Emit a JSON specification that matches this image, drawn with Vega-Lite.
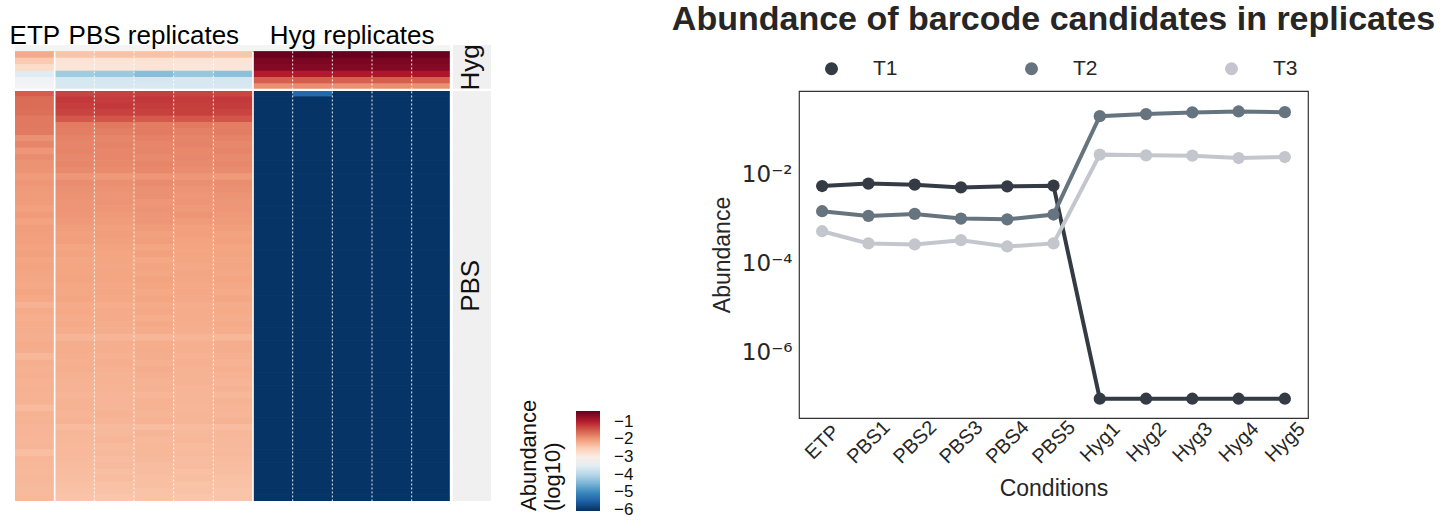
{
  "$schema": "https://vega.github.io/schema/vega-lite/v6.json",
  "background": "white",
  "padding": {"left": 9, "top": 2, "right": 5, "bottom": 0},
  "bounds": "flush",
  "spacing": 308,
  "config": {
    "font": "Liberation Sans",
    "text": {"font": "Liberation Sans"},
    "axis": {"grid": false},
    "legend": {"padding": 0}
  },
  "resolve": {
    "scale": {"x": "independent", "y": "independent", "color": "independent"},
    "legend": {"color": "independent"}
  },
  "datasets": {
    "cells": [
      {"r":"H01","ETP":-2.14,"PBS1":-2.40,"PBS2":-2.38,"PBS3":-2.37,"PBS4":-2.40,"PBS5":-2.41,"Hyg1":-0.42,"Hyg2":-0.40,"Hyg3":-0.41,"Hyg4":-0.40,"Hyg5":-0.42},
      {"r":"H02","ETP":-2.47,"PBS1":-2.80,"PBS2":-2.82,"PBS3":-2.79,"PBS4":-2.81,"PBS5":-2.83,"Hyg1":-0.56,"Hyg2":-0.55,"Hyg3":-0.54,"Hyg4":-0.55,"Hyg5":-0.56},
      {"r":"H03","ETP":-2.67,"PBS1":-2.83,"PBS2":-2.84,"PBS3":-2.82,"PBS4":-2.85,"PBS5":-2.84,"Hyg1":-0.62,"Hyg2":-0.61,"Hyg3":-0.60,"Hyg4":-0.60,"Hyg5":-0.62},
      {"r":"H04","ETP":-3.54,"PBS1":-4.20,"PBS2":-4.25,"PBS3":-4.40,"PBS4":-4.27,"PBS5":-4.37,"Hyg1":-0.98,"Hyg2":-0.97,"Hyg3":-0.94,"Hyg4":-0.93,"Hyg5":-0.92},
      {"r":"H05","ETP":-3.31,"PBS1":-3.68,"PBS2":-3.70,"PBS3":-3.69,"PBS4":-3.67,"PBS5":-3.70,"Hyg1":-1.52,"Hyg2":-1.50,"Hyg3":-1.53,"Hyg4":-1.51,"Hyg5":-1.52},
      {"r":"H06","ETP":-3.28,"PBS1":-3.66,"PBS2":-3.67,"PBS3":-3.65,"PBS4":-3.68,"PBS5":-3.66,"Hyg1":-1.90,"Hyg2":-1.88,"Hyg3":-1.91,"Hyg4":-1.89,"Hyg5":-1.92},
      {"r":"P01","ETP":-1.50,"PBS1":-1.30,"PBS2":-1.28,"PBS3":-1.26,"PBS4":-1.30,"PBS5":-1.32,"Hyg1":-6,"Hyg2":-5.4,"Hyg3":-6,"Hyg4":-6,"Hyg5":-6},
      {"r":"P02","ETP":-1.62,"PBS1":-1.22,"PBS2":-1.24,"PBS3":-1.20,"PBS4":-1.23,"PBS5":-1.22,"Hyg1":-6,"Hyg2":-6,"Hyg3":-6,"Hyg4":-6,"Hyg5":-6},
      {"r":"P03","ETP":-1.62,"PBS1":-1.25,"PBS2":-1.22,"PBS3":-1.24,"PBS4":-1.26,"PBS5":-1.24,"Hyg1":-6,"Hyg2":-6,"Hyg3":-6,"Hyg4":-6,"Hyg5":-6},
      {"r":"P04","ETP":-1.64,"PBS1":-1.30,"PBS2":-1.28,"PBS3":-1.29,"PBS4":-1.27,"PBS5":-1.30,"Hyg1":-6,"Hyg2":-6,"Hyg3":-6,"Hyg4":-6,"Hyg5":-6},
      {"r":"P05","ETP":-1.72,"PBS1":-1.46,"PBS2":-1.44,"PBS3":-1.47,"PBS4":-1.45,"PBS5":-1.44,"Hyg1":-6,"Hyg2":-6,"Hyg3":-6,"Hyg4":-6,"Hyg5":-6},
      {"r":"P06","ETP":-1.72,"PBS1":-1.74,"PBS2":-1.72,"PBS3":-1.75,"PBS4":-1.73,"PBS5":-1.76,"Hyg1":-6,"Hyg2":-6,"Hyg3":-6,"Hyg4":-6,"Hyg5":-6},
      {"r":"P07","ETP":-1.73,"PBS1":-1.76,"PBS2":-1.77,"PBS3":-1.74,"PBS4":-1.78,"PBS5":-1.75,"Hyg1":-6,"Hyg2":-6,"Hyg3":-6,"Hyg4":-6,"Hyg5":-6},
      {"r":"P08","ETP":-1.92,"PBS1":-1.80,"PBS2":-1.82,"PBS3":-1.79,"PBS4":-1.81,"PBS5":-1.80,"Hyg1":-6,"Hyg2":-6,"Hyg3":-6,"Hyg4":-6,"Hyg5":-6},
      {"r":"P09","ETP":-1.82,"PBS1":-1.82,"PBS2":-1.80,"PBS3":-1.83,"PBS4":-1.80,"PBS5":-1.84,"Hyg1":-6,"Hyg2":-6,"Hyg3":-6,"Hyg4":-6,"Hyg5":-6},
      {"r":"P10","ETP":-1.96,"PBS1":-1.81,"PBS2":-1.83,"PBS3":-1.82,"PBS4":-1.85,"PBS5":-1.82,"Hyg1":-6,"Hyg2":-6,"Hyg3":-6,"Hyg4":-6,"Hyg5":-6},
      {"r":"P11","ETP":-1.88,"PBS1":-1.84,"PBS2":-1.83,"PBS3":-1.86,"PBS4":-1.84,"PBS5":-1.86,"Hyg1":-6,"Hyg2":-6,"Hyg3":-6,"Hyg4":-6,"Hyg5":-6},
      {"r":"P12","ETP":-1.93,"PBS1":-1.83,"PBS2":-1.85,"PBS3":-1.82,"PBS4":-1.86,"PBS5":-1.84,"Hyg1":-6,"Hyg2":-6,"Hyg3":-6,"Hyg4":-6,"Hyg5":-6},
      {"r":"P13","ETP":-1.94,"PBS1":-1.86,"PBS2":-1.87,"PBS3":-1.85,"PBS4":-1.88,"PBS5":-1.87,"Hyg1":-6,"Hyg2":-6,"Hyg3":-6,"Hyg4":-6,"Hyg5":-6},
      {"r":"P14","ETP":-2.00,"PBS1":-1.97,"PBS2":-1.98,"PBS3":-1.96,"PBS4":-1.97,"PBS5":-1.99,"Hyg1":-6,"Hyg2":-6,"Hyg3":-6,"Hyg4":-6,"Hyg5":-6},
      {"r":"P15","ETP":-1.96,"PBS1":-1.88,"PBS2":-1.90,"PBS3":-1.87,"PBS4":-1.90,"PBS5":-1.89,"Hyg1":-6,"Hyg2":-6,"Hyg3":-6,"Hyg4":-6,"Hyg5":-6},
      {"r":"P16","ETP":-1.99,"PBS1":-1.92,"PBS2":-1.93,"PBS3":-1.91,"PBS4":-1.94,"PBS5":-1.92,"Hyg1":-6,"Hyg2":-6,"Hyg3":-6,"Hyg4":-6,"Hyg5":-6},
      {"r":"P17","ETP":-2.00,"PBS1":-1.93,"PBS2":-1.95,"PBS3":-1.92,"PBS4":-1.96,"PBS5":-1.94,"Hyg1":-6,"Hyg2":-6,"Hyg3":-6,"Hyg4":-6,"Hyg5":-6},
      {"r":"P18","ETP":-2.00,"PBS1":-1.95,"PBS2":-1.94,"PBS3":-1.96,"PBS4":-1.95,"PBS5":-1.97,"Hyg1":-6,"Hyg2":-6,"Hyg3":-6,"Hyg4":-6,"Hyg5":-6},
      {"r":"P19","ETP":-2.04,"PBS1":-1.95,"PBS2":-1.97,"PBS3":-1.94,"PBS4":-1.98,"PBS5":-1.96,"Hyg1":-6,"Hyg2":-6,"Hyg3":-6,"Hyg4":-6,"Hyg5":-6},
      {"r":"P20","ETP":-2.00,"PBS1":-1.96,"PBS2":-1.98,"PBS3":-1.97,"PBS4":-1.95,"PBS5":-1.98,"Hyg1":-6,"Hyg2":-6,"Hyg3":-6,"Hyg4":-6,"Hyg5":-6},
      {"r":"P21","ETP":-2.06,"PBS1":-1.98,"PBS2":-2.00,"PBS3":-1.97,"PBS4":-2.01,"PBS5":-1.99,"Hyg1":-6,"Hyg2":-6,"Hyg3":-6,"Hyg4":-6,"Hyg5":-6},
      {"r":"P22","ETP":-2.02,"PBS1":-2.02,"PBS2":-2.03,"PBS3":-2.01,"PBS4":-2.04,"PBS5":-2.02,"Hyg1":-6,"Hyg2":-6,"Hyg3":-6,"Hyg4":-6,"Hyg5":-6},
      {"r":"P23","ETP":-2.03,"PBS1":-2.04,"PBS2":-2.02,"PBS3":-2.05,"PBS4":-2.03,"PBS5":-2.06,"Hyg1":-6,"Hyg2":-6,"Hyg3":-6,"Hyg4":-6,"Hyg5":-6},
      {"r":"P24","ETP":-2.04,"PBS1":-2.03,"PBS2":-2.05,"PBS3":-2.02,"PBS4":-2.06,"PBS5":-2.04,"Hyg1":-6,"Hyg2":-6,"Hyg3":-6,"Hyg4":-6,"Hyg5":-6},
      {"r":"P25","ETP":-2.06,"PBS1":-2.08,"PBS2":-2.06,"PBS3":-2.09,"PBS4":-2.07,"PBS5":-2.08,"Hyg1":-6,"Hyg2":-6,"Hyg3":-6,"Hyg4":-6,"Hyg5":-6},
      {"r":"P26","ETP":-2.05,"PBS1":-2.06,"PBS2":-2.08,"PBS3":-2.05,"PBS4":-2.09,"PBS5":-2.07,"Hyg1":-6,"Hyg2":-6,"Hyg3":-6,"Hyg4":-6,"Hyg5":-6},
      {"r":"P27","ETP":-2.08,"PBS1":-2.10,"PBS2":-2.09,"PBS3":-2.11,"PBS4":-2.08,"PBS5":-2.10,"Hyg1":-6,"Hyg2":-6,"Hyg3":-6,"Hyg4":-6,"Hyg5":-6},
      {"r":"P28","ETP":-2.06,"PBS1":-2.08,"PBS2":-2.10,"PBS3":-2.07,"PBS4":-2.11,"PBS5":-2.09,"Hyg1":-6,"Hyg2":-6,"Hyg3":-6,"Hyg4":-6,"Hyg5":-6},
      {"r":"P29","ETP":-2.08,"PBS1":-2.09,"PBS2":-2.08,"PBS3":-2.10,"PBS4":-2.09,"PBS5":-2.11,"Hyg1":-6,"Hyg2":-6,"Hyg3":-6,"Hyg4":-6,"Hyg5":-6},
      {"r":"P30","ETP":-2.10,"PBS1":-2.07,"PBS2":-2.09,"PBS3":-2.06,"PBS4":-2.10,"PBS5":-2.08,"Hyg1":-6,"Hyg2":-6,"Hyg3":-6,"Hyg4":-6,"Hyg5":-6},
      {"r":"P31","ETP":-2.12,"PBS1":-2.10,"PBS2":-2.11,"PBS3":-2.09,"PBS4":-2.12,"PBS5":-2.11,"Hyg1":-6,"Hyg2":-6,"Hyg3":-6,"Hyg4":-6,"Hyg5":-6},
      {"r":"P32","ETP":-2.08,"PBS1":-2.11,"PBS2":-2.10,"PBS3":-2.12,"PBS4":-2.11,"PBS5":-2.13,"Hyg1":-6,"Hyg2":-6,"Hyg3":-6,"Hyg4":-6,"Hyg5":-6},
      {"r":"P33","ETP":-2.12,"PBS1":-2.09,"PBS2":-2.11,"PBS3":-2.08,"PBS4":-2.12,"PBS5":-2.10,"Hyg1":-6,"Hyg2":-6,"Hyg3":-6,"Hyg4":-6,"Hyg5":-6},
      {"r":"P34","ETP":-2.23,"PBS1":-2.14,"PBS2":-2.16,"PBS3":-2.13,"PBS4":-2.17,"PBS5":-2.15,"Hyg1":-6,"Hyg2":-6,"Hyg3":-6,"Hyg4":-6,"Hyg5":-6},
      {"r":"P35","ETP":-2.13,"PBS1":-2.12,"PBS2":-2.14,"PBS3":-2.11,"PBS4":-2.15,"PBS5":-2.13,"Hyg1":-6,"Hyg2":-6,"Hyg3":-6,"Hyg4":-6,"Hyg5":-6},
      {"r":"P36","ETP":-2.18,"PBS1":-2.15,"PBS2":-2.14,"PBS3":-2.16,"PBS4":-2.15,"PBS5":-2.17,"Hyg1":-6,"Hyg2":-6,"Hyg3":-6,"Hyg4":-6,"Hyg5":-6},
      {"r":"P37","ETP":-2.16,"PBS1":-2.13,"PBS2":-2.15,"PBS3":-2.12,"PBS4":-2.16,"PBS5":-2.14,"Hyg1":-6,"Hyg2":-6,"Hyg3":-6,"Hyg4":-6,"Hyg5":-6},
      {"r":"P38","ETP":-2.17,"PBS1":-2.16,"PBS2":-2.17,"PBS3":-2.15,"PBS4":-2.18,"PBS5":-2.16,"Hyg1":-6,"Hyg2":-6,"Hyg3":-6,"Hyg4":-6,"Hyg5":-6},
      {"r":"P39","ETP":-2.18,"PBS1":-2.25,"PBS2":-2.24,"PBS3":-2.26,"PBS4":-2.25,"PBS5":-2.27,"Hyg1":-6,"Hyg2":-6,"Hyg3":-6,"Hyg4":-6,"Hyg5":-6},
      {"r":"P40","ETP":-2.15,"PBS1":-2.17,"PBS2":-2.18,"PBS3":-2.16,"PBS4":-2.19,"PBS5":-2.17,"Hyg1":-6,"Hyg2":-6,"Hyg3":-6,"Hyg4":-6,"Hyg5":-6},
      {"r":"P41","ETP":-2.17,"PBS1":-2.16,"PBS2":-2.18,"PBS3":-2.15,"PBS4":-2.19,"PBS5":-2.17,"Hyg1":-6,"Hyg2":-6,"Hyg3":-6,"Hyg4":-6,"Hyg5":-6},
      {"r":"P42","ETP":-2.27,"PBS1":-2.18,"PBS2":-2.20,"PBS3":-2.17,"PBS4":-2.21,"PBS5":-2.19,"Hyg1":-6,"Hyg2":-6,"Hyg3":-6,"Hyg4":-6,"Hyg5":-6},
      {"r":"P43","ETP":-2.18,"PBS1":-2.19,"PBS2":-2.18,"PBS3":-2.20,"PBS4":-2.19,"PBS5":-2.21,"Hyg1":-6,"Hyg2":-6,"Hyg3":-6,"Hyg4":-6,"Hyg5":-6},
      {"r":"P44","ETP":-2.20,"PBS1":-2.18,"PBS2":-2.20,"PBS3":-2.17,"PBS4":-2.21,"PBS5":-2.19,"Hyg1":-6,"Hyg2":-6,"Hyg3":-6,"Hyg4":-6,"Hyg5":-6},
      {"r":"P45","ETP":-2.19,"PBS1":-2.20,"PBS2":-2.22,"PBS3":-2.19,"PBS4":-2.23,"PBS5":-2.21,"Hyg1":-6,"Hyg2":-6,"Hyg3":-6,"Hyg4":-6,"Hyg5":-6},
      {"r":"P46","ETP":-2.21,"PBS1":-2.22,"PBS2":-2.21,"PBS3":-2.23,"PBS4":-2.22,"PBS5":-2.24,"Hyg1":-6,"Hyg2":-6,"Hyg3":-6,"Hyg4":-6,"Hyg5":-6},
      {"r":"P47","ETP":-2.20,"PBS1":-2.21,"PBS2":-2.23,"PBS3":-2.20,"PBS4":-2.24,"PBS5":-2.22,"Hyg1":-6,"Hyg2":-6,"Hyg3":-6,"Hyg4":-6,"Hyg5":-6},
      {"r":"P48","ETP":-2.21,"PBS1":-2.25,"PBS2":-2.24,"PBS3":-2.26,"PBS4":-2.25,"PBS5":-2.27,"Hyg1":-6,"Hyg2":-6,"Hyg3":-6,"Hyg4":-6,"Hyg5":-6},
      {"r":"P49","ETP":-2.22,"PBS1":-2.22,"PBS2":-2.24,"PBS3":-2.21,"PBS4":-2.25,"PBS5":-2.23,"Hyg1":-6,"Hyg2":-6,"Hyg3":-6,"Hyg4":-6,"Hyg5":-6},
      {"r":"P50","ETP":-2.31,"PBS1":-2.23,"PBS2":-2.25,"PBS3":-2.22,"PBS4":-2.26,"PBS5":-2.24,"Hyg1":-6,"Hyg2":-6,"Hyg3":-6,"Hyg4":-6,"Hyg5":-6},
      {"r":"P51","ETP":-2.22,"PBS1":-2.24,"PBS2":-2.23,"PBS3":-2.25,"PBS4":-2.24,"PBS5":-2.26,"Hyg1":-6,"Hyg2":-6,"Hyg3":-6,"Hyg4":-6,"Hyg5":-6},
      {"r":"P52","ETP":-2.23,"PBS1":-2.22,"PBS2":-2.24,"PBS3":-2.21,"PBS4":-2.25,"PBS5":-2.23,"Hyg1":-6,"Hyg2":-6,"Hyg3":-6,"Hyg4":-6,"Hyg5":-6},
      {"r":"P53","ETP":-2.24,"PBS1":-2.31,"PBS2":-2.30,"PBS3":-2.32,"PBS4":-2.31,"PBS5":-2.33,"Hyg1":-6,"Hyg2":-6,"Hyg3":-6,"Hyg4":-6,"Hyg5":-6},
      {"r":"P54","ETP":-2.24,"PBS1":-2.26,"PBS2":-2.28,"PBS3":-2.25,"PBS4":-2.29,"PBS5":-2.27,"Hyg1":-6,"Hyg2":-6,"Hyg3":-6,"Hyg4":-6,"Hyg5":-6},
      {"r":"P55","ETP":-2.26,"PBS1":-2.27,"PBS2":-2.26,"PBS3":-2.28,"PBS4":-2.27,"PBS5":-2.29,"Hyg1":-6,"Hyg2":-6,"Hyg3":-6,"Hyg4":-6,"Hyg5":-6},
      {"r":"P56","ETP":-2.25,"PBS1":-2.28,"PBS2":-2.30,"PBS3":-2.27,"PBS4":-2.31,"PBS5":-2.29,"Hyg1":-6,"Hyg2":-6,"Hyg3":-6,"Hyg4":-6,"Hyg5":-6},
      {"r":"P57","ETP":-2.35,"PBS1":-2.28,"PBS2":-2.29,"PBS3":-2.27,"PBS4":-2.30,"PBS5":-2.29,"Hyg1":-6,"Hyg2":-6,"Hyg3":-6,"Hyg4":-6,"Hyg5":-6},
      {"r":"P58","ETP":-2.26,"PBS1":-2.30,"PBS2":-2.32,"PBS3":-2.29,"PBS4":-2.33,"PBS5":-2.31,"Hyg1":-6,"Hyg2":-6,"Hyg3":-6,"Hyg4":-6,"Hyg5":-6},
      {"r":"P59","ETP":-2.27,"PBS1":-2.31,"PBS2":-2.30,"PBS3":-2.32,"PBS4":-2.31,"PBS5":-2.33,"Hyg1":-6,"Hyg2":-6,"Hyg3":-6,"Hyg4":-6,"Hyg5":-6},
      {"r":"P60","ETP":-2.28,"PBS1":-2.33,"PBS2":-2.35,"PBS3":-2.32,"PBS4":-2.36,"PBS5":-2.34,"Hyg1":-6,"Hyg2":-6,"Hyg3":-6,"Hyg4":-6,"Hyg5":-6},
      {"r":"P61","ETP":-2.27,"PBS1":-2.34,"PBS2":-2.33,"PBS3":-2.35,"PBS4":-2.34,"PBS5":-2.36,"Hyg1":-6,"Hyg2":-6,"Hyg3":-6,"Hyg4":-6,"Hyg5":-6},
      {"r":"P62","ETP":-2.29,"PBS1":-2.36,"PBS2":-2.38,"PBS3":-2.35,"PBS4":-2.39,"PBS5":-2.37,"Hyg1":-6,"Hyg2":-6,"Hyg3":-6,"Hyg4":-6,"Hyg5":-6},
      {"r":"P63","ETP":-2.30,"PBS1":-2.38,"PBS2":-2.37,"PBS3":-2.39,"PBS4":-2.38,"PBS5":-2.40,"Hyg1":-6,"Hyg2":-6,"Hyg3":-6,"Hyg4":-6,"Hyg5":-6},
      {"r":"P64","ETP":-2.28,"PBS1":-2.40,"PBS2":-2.42,"PBS3":-2.39,"PBS4":-2.41,"PBS5":-2.40,"Hyg1":-6,"Hyg2":-6,"Hyg3":-6,"Hyg4":-6,"Hyg5":-6}
    ]
  },
  "hconcat": [
    {
      "width": 476,
      "height": 456,
      "view": {"stroke": null},
      "layer": [
        {
          "data": {"values": [{}]},
          "mark": {"type": "rect", "color": "#f4f4f4"},
          "encoding": {"y": {"datum": "A", "type": "ordinal", "axis": null}}
        },
        {
          "data": {"values": [{}]},
          "mark": {"type": "rect", "color": "#f0f0f0"},
          "encoding": {
            "x": {"datum": "S", "type": "nominal",
              "axis": {"orient": "top", "title": null, "ticks": false, "domain": false, "labelAngle": 0, "labelExpr": "datum.value == 'ETP' ? 'ETP' : datum.value == 'PBS3' ? 'PBS replicates' : datum.value == 'Hyg3' ? 'Hyg replicates' : ''", "labelFontSize": 26, "labelColor": "#000000", "labelPadding": 2, "labelBaseline": "alphabetic", "labelOverlap": false, "labelFlush": false, "labelBound": false, "labelLimit": 400}}
          }
        },
        {
          "data": {"name": "cells"},
          "transform": [
            {"fold": ["ETP","PBS1","PBS2","PBS3","PBS4","PBS5","Hyg1","Hyg2","Hyg3","Hyg4","Hyg5"], "as": ["c", "v"]}
          ],
          "layer": [
            {"mark": {"type": "rect"}},
            {"mark": {"type": "rect"}},
            {"mark": {"type": "rect"}}
          ],
          "encoding": {
            "x": {
              "field": "c", "type": "nominal",
              "scale": {"domain": ["ETP","PBS1","PBS2","PBS3","PBS4","PBS5","Hyg1","Hyg2","Hyg3","Hyg4","Hyg5","S"], "paddingInner": 0, "paddingOuter": 0},
              "axis": {"orient": "top", "title": null, "ticks": false, "domain": false, "labelAngle": 0, "labelExpr": "datum.value == 'ETP' ? 'ETP' : datum.value == 'PBS3' ? 'PBS replicates' : datum.value == 'Hyg3' ? 'Hyg replicates' : ''", "labelFontSize": 26, "labelColor": "#000000", "labelPadding": 2, "labelBaseline": "alphabetic", "labelOverlap": false, "labelFlush": false, "labelBound": false, "labelLimit": 400}
            },
            "y": {
              "field": "r", "type": "ordinal",
              "scale": {"domain": ["A","H01","H02","H03","H04","H05","H06","P01","P02","P03","P04","P05","P06","P07","P08","P09","P10","P11","P12","P13","P14","P15","P16","P17","P18","P19","P20","P21","P22","P23","P24","P25","P26","P27","P28","P29","P30","P31","P32","P33","P34","P35","P36","P37","P38","P39","P40","P41","P42","P43","P44","P45","P46","P47","P48","P49","P50","P51","P52","P53","P54","P55","P56","P57","P58","P59","P60","P61","P62","P63","P64"], "paddingInner": 0, "paddingOuter": 0},
              "axis": null
            },
            "color": {
              "field": "v", "type": "quantitative",
              "scale": {
                "type": "linear",
                "domain": [-6.05, -5.44, -4.88, -4.32, -3.76, -3.2, -2.64, -2.08, -1.52, -0.96, -0.4],
                "range": ["#053061","#2166ac","#4393c3","#92c5de","#d1e5f0","#f7f7f7","#fddbc7","#f4a582","#d6604d","#b2182b","#67001f"],
                "interpolate": "rgb", "clamp": true
              },
              "legend": {
                "type": "gradient",
                "orient": "none", "legendX": 503, "legendY": 366, "direction": "vertical",
                "title": ["Abundance", "(log10)"], "titleOrient": "left", "titleAnchor": "start", "titleFontSize": 22,
                "titleFontWeight": "normal", "titleColor": "#111111", "titleLineHeight": 24, "titlePadding": 10,
                "values": [-1, -2, -3, -4, -5, -6], "gradientLength": 100, "gradientThickness": 24,
                "gradientStrokeWidth": 0, "labelFontSize": 17, "labelColor": "#111111", "labelOffset": 14,
                "labelOverlap": false
              }
            }
          }
        },
        {
          "data": {"values": [{"c": "PBS1"}, {"c": "Hyg1"}]},
          "mark": {"type": "rule", "color": "white", "strokeWidth": 1.6},
          "encoding": {
            "x": {"field": "c", "type": "nominal", "bandPosition": 0,
              "axis": {"orient": "top", "title": null, "ticks": false, "domain": false, "labelAngle": 0, "labelExpr": "datum.value == 'ETP' ? 'ETP' : datum.value == 'PBS3' ? 'PBS replicates' : datum.value == 'Hyg3' ? 'Hyg replicates' : ''", "labelFontSize": 26, "labelColor": "#000000", "labelPadding": 2, "labelBaseline": "alphabetic", "labelOverlap": false, "labelFlush": false, "labelBound": false, "labelLimit": 400}},
            "y": {"datum": "H01", "type": "ordinal", "bandPosition": 0, "axis": null},
            "y2": {"datum": "P64", "bandPosition": 1}
          }
        },
        {
          "data": {"values": [{"c": "PBS2"}, {"c": "PBS3"}, {"c": "PBS4"}, {"c": "PBS5"}, {"c": "Hyg2"}, {"c": "Hyg3"}, {"c": "Hyg4"}, {"c": "Hyg5"}]},
          "mark": {"type": "rule", "color": "white", "strokeWidth": 1, "strokeDash": [2, 2], "opacity": 0.9},
          "encoding": {
            "x": {"field": "c", "type": "nominal", "bandPosition": 0,
              "axis": {"orient": "top", "title": null, "ticks": false, "domain": false, "labelAngle": 0, "labelExpr": "datum.value == 'ETP' ? 'ETP' : datum.value == 'PBS3' ? 'PBS replicates' : datum.value == 'Hyg3' ? 'Hyg replicates' : ''", "labelFontSize": 26, "labelColor": "#000000", "labelPadding": 2, "labelBaseline": "alphabetic", "labelOverlap": false, "labelFlush": false, "labelBound": false, "labelLimit": 400}},
            "y": {"datum": "H01", "type": "ordinal", "bandPosition": 0, "axis": null},
            "y2": {"datum": "P64", "bandPosition": 1}
          }
        },
        {
          "data": {"values": [{}]},
          "mark": {"type": "rule", "color": "white", "strokeWidth": 3},
          "encoding": {
            "x": {"datum": "S", "type": "nominal", "bandPosition": 0,
              "axis": {"orient": "top", "title": null, "ticks": false, "domain": false, "labelAngle": 0, "labelExpr": "datum.value == 'ETP' ? 'ETP' : datum.value == 'PBS3' ? 'PBS replicates' : datum.value == 'Hyg3' ? 'Hyg replicates' : ''", "labelFontSize": 26, "labelColor": "#000000", "labelPadding": 2, "labelBaseline": "alphabetic", "labelOverlap": false, "labelFlush": false, "labelBound": false, "labelLimit": 400}}
          }
        },
        {
          "data": {"values": [{}]},
          "mark": {"type": "rule", "color": "white", "strokeWidth": 2.2},
          "encoding": {"y": {"datum": "P01", "type": "ordinal", "bandPosition": 0, "axis": null}}
        },
        {
          "data": {"values": [{"t": "Hyg", "r": "H03"}, {"t": "PBS", "r": "P31"}]},
          "mark": {"type": "text", "angle": 270, "fontSize": 26, "color": "#111111", "baseline": "middle", "align": "center"},
          "encoding": {
            "x": {"datum": "S", "type": "nominal",
              "axis": {"orient": "top", "title": null, "ticks": false, "domain": false, "labelAngle": 0, "labelExpr": "datum.value == 'ETP' ? 'ETP' : datum.value == 'PBS3' ? 'PBS replicates' : datum.value == 'Hyg3' ? 'Hyg replicates' : ''", "labelFontSize": 26, "labelColor": "#000000", "labelPadding": 2, "labelBaseline": "alphabetic", "labelOverlap": false, "labelFlush": false, "labelBound": false, "labelLimit": 400}},
            "y": {"field": "r", "type": "ordinal", "axis": null},
            "text": {"field": "t"}
          }
        }
      ]
    },
    {
      "bounds": "flush",
      "spacing": 45,
      "resolve": {"scale": {"color": "independent"}, "legend": {"color": "independent"}},
      "vconcat": [
        {
          "width": 509,
          "height": 1,
          "view": {"stroke": null},
          "data": {"values": [{"a": 1}]},
          "mark": {"type": "text", "text": ""},
          "encoding": {}
        },
        {
          "width": 509,
          "height": 327,
          "view": {"stroke": "#333333", "strokeWidth": 1.2},
          "title": {
            "text": "Abundance of barcode candidates in replicates",
            "fontSize": 34, "fontWeight": "bold", "font": "Liberation Sans", "color": "#262626",
            "frame": "group", "anchor": "middle", "offset": 21
          },
          "data": {
            "values": [
              {"c": "ETP", "s": "T1", "v": 0.0056},
              {"c": "PBS1", "s": "T1", "v": 0.00635},
              {"c": "PBS2", "s": "T1", "v": 0.0060},
              {"c": "PBS3", "s": "T1", "v": 0.0052},
              {"c": "PBS4", "s": "T1", "v": 0.0055},
              {"c": "PBS5", "s": "T1", "v": 0.0057},
              {"c": "Hyg1", "s": "T1", "v": 9.3e-8},
              {"c": "Hyg2", "s": "T1", "v": 9.3e-8},
              {"c": "Hyg3", "s": "T1", "v": 9.3e-8},
              {"c": "Hyg4", "s": "T1", "v": 9.3e-8},
              {"c": "Hyg5", "s": "T1", "v": 9.3e-8},
              {"c": "ETP", "s": "T2", "v": 0.00152},
              {"c": "PBS1", "s": "T2", "v": 0.00119},
              {"c": "PBS2", "s": "T2", "v": 0.00132},
              {"c": "PBS3", "s": "T2", "v": 0.00104},
              {"c": "PBS4", "s": "T2", "v": 0.00100},
              {"c": "PBS5", "s": "T2", "v": 0.00128},
              {"c": "Hyg1", "s": "T2", "v": 0.208},
              {"c": "Hyg2", "s": "T2", "v": 0.231},
              {"c": "Hyg3", "s": "T2", "v": 0.252},
              {"c": "Hyg4", "s": "T2", "v": 0.265},
              {"c": "Hyg5", "s": "T2", "v": 0.256},
              {"c": "ETP", "s": "T3", "v": 0.00054},
              {"c": "PBS1", "s": "T3", "v": 0.000287},
              {"c": "PBS2", "s": "T3", "v": 0.000272},
              {"c": "PBS3", "s": "T3", "v": 0.00034},
              {"c": "PBS4", "s": "T3", "v": 0.000245},
              {"c": "PBS5", "s": "T3", "v": 0.000287},
              {"c": "Hyg1", "s": "T3", "v": 0.0284},
              {"c": "Hyg2", "s": "T3", "v": 0.0274},
              {"c": "Hyg3", "s": "T3", "v": 0.0269},
              {"c": "Hyg4", "s": "T3", "v": 0.0238},
              {"c": "Hyg5", "s": "T3", "v": 0.0251}
            ]
          },
          "encoding": {
            "x": {
              "field": "c", "type": "ordinal",
              "sort": ["ETP","PBS1","PBS2","PBS3","PBS4","PBS5","Hyg1","Hyg2","Hyg3","Hyg4","Hyg5"],
              "scale": {"type": "point", "padding": 0.5},
              "axis": {
                "title": "Conditions", "labelAngle": -45, "labelAlign": "center", "labelBaseline": "middle",
                "labelPadding": 24, "labelFontSize": 20, "labelColor": "#262626",
                "titleFontSize": 23, "titleFontWeight": "normal", "titleColor": "#262626", "titlePadding": 10,
                "ticks": false, "domain": false, "grid": false, "labelOverlap": false, "labelFlush": false
              }
            },
            "y": {
              "field": "v", "type": "quantitative",
              "scale": {"type": "log", "domain": [3.43e-8, 0.764], "nice": false},
              "axis": {
                "title": "Abundance", "values": [0.000001, 0.0001, 0.01],
                "labelExpr": "datum.value < 0.00001 ? '10⁻⁶' : datum.value < 0.001 ? '10⁻⁴' : '10⁻²'",
                "labelFont": "DejaVu Sans", "labelFontSize": 23, "labelColor": "#262626", "labelPadding": 7,
                "ticks": false, "domain": false, "grid": false,
                "titleFontSize": 23, "titleFontWeight": "normal", "titleColor": "#262626", "titlePadding": 7
              }
            }
          },
          "layer": [
            {
              "mark": {"type": "line", "strokeWidth": 4},
              "encoding": {
                "stroke": {"field": "s", "type": "nominal", "scale": {"domain": ["T1","T2","T3"], "range": ["#343b44","#66747f","#c3c7cd"]}, "legend": null},
                "order": {"value": null}
              }
            },
            {
              "mark": {"type": "point", "filled": true, "size": 150, "opacity": 1},
              "encoding": {
                "color": {
                  "field": "s", "type": "nominal",
                  "scale": {"domain": ["T1","T2","T3"], "range": ["#343b44","#66747f","#c3c7cd"]},
                  "legend": {
                    "orient": "none", "legendX": 22, "legendY": -33, "direction": "horizontal", "title": null,
                    "columns": 3, "gridAlign": "all",
                    "symbolType": "circle", "symbolSize": 170, "symbolStrokeWidth": 0, "symbolOpacity": 1,
                    "labelFontSize": 21, "labelColor": "#262626", "labelOffset": 31, "columnPadding": 123
                  }
                }
              }
            }
          ]
        }
      ]
    }
  ]
}
